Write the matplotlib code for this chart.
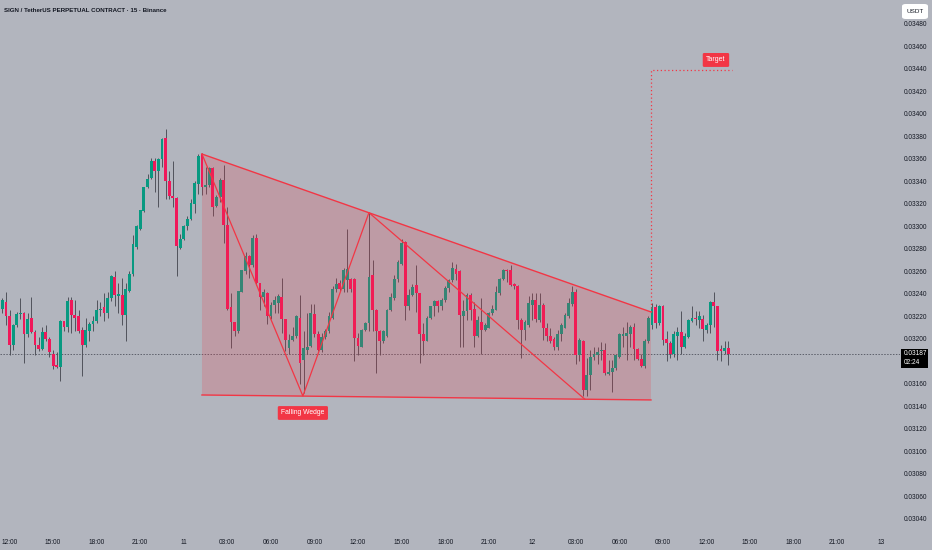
import numpy as np
import matplotlib.pyplot as plt
from matplotlib.patches import Rectangle, FancyBboxPatch, Polygon

# 15m candles, prices in units of 1e-5 USDT
opens = [3227, 3233, 3220, 3195, 3212, 3222, 3223, 3204, 3219, 3206,
         3195, 3191, 3206, 3200, 3187, 3177, 3175, 3216, 3211, 3235,
         3221, 3220, 3208, 3195, 3207, 3213, 3216, 3226, 3228, 3223,
         3236, 3255, 3238, 3239, 3221, 3243, 3258, 3282, 3298, 3314,
         3335, 3343, 3358, 3349, 3360, 3379, 3340, 3327, 3325, 3281,
         3289, 3300, 3307, 3320, 3338, 3364, 3335, 3337, 3352, 3318,
         3326, 3341, 3301, 3228, 3215, 3207, 3242, 3260, 3274, 3266,
         3290, 3250, 3237, 3241, 3220, 3230, 3232, 3237, 3218, 3192,
         3199, 3203, 3219, 3181, 3190, 3194, 3222, 3204, 3190, 3202,
         3207, 3219, 3244, 3250, 3244, 3252, 3253, 3253, 3201, 3193,
         3208, 3214, 3257, 3226, 3207, 3198, 3203, 3226, 3236, 3253,
         3267, 3286, 3229, 3239, 3248, 3241, 3204, 3198, 3219, 3229,
         3234, 3229, 3235, 3245, 3252, 3262, 3260, 3220, 3225, 3239,
         3227, 3203, 3215, 3208, 3210, 3223, 3226, 3241, 3253, 3261,
         3261, 3249, 3247, 3217, 3208, 3212, 3230, 3235, 3217, 3230,
         3210, 3203, 3200, 3193, 3204, 3210, 3220, 3231, 3242, 3186,
         3198, 3155, 3168, 3184, 3186, 3189, 3190, 3169, 3171, 3174,
         3184, 3203, 3203, 3204, 3211, 3191, 3182, 3176, 3198, 3212,
         3228, 3214, 3229, 3200, 3196, 3187, 3203, 3206, 3193, 3202,
         3216, 3219, 3217, 3218, 3208, 3212, 3233, 3229, 3191, 3189,
         3192]
highs = [3236, 3242, 3226, 3213, 3224, 3236, 3224, 3223, 3237, 3208,
         3202, 3211, 3212, 3202, 3190, 3188, 3217, 3216, 3237, 3237,
         3235, 3226, 3211, 3219, 3215, 3220, 3235, 3233, 3241, 3242,
         3257, 3260, 3250, 3254, 3250, 3260, 3292, 3301, 3315, 3335,
         3347, 3361, 3361, 3361, 3379, 3387, 3349, 3358, 3326, 3293,
         3301, 3309, 3324, 3340, 3364, 3365, 3353, 3353, 3353, 3328,
         3343, 3355, 3317, 3241, 3215, 3243, 3261, 3277, 3275, 3292,
         3293, 3250, 3244, 3242, 3233, 3238, 3240, 3254, 3218, 3204,
         3211, 3221, 3239, 3207, 3223, 3231, 3231, 3207, 3205, 3209,
         3224, 3247, 3254, 3252, 3263, 3298, 3254, 3254, 3205, 3209,
         3215, 3312, 3270, 3227, 3208, 3208, 3227, 3241, 3257, 3270,
         3289, 3287, 3244, 3249, 3266, 3241, 3214, 3220, 3229, 3235,
         3235, 3236, 3247, 3253, 3268, 3267, 3261, 3235, 3241, 3241,
         3233, 3220, 3236, 3214, 3224, 3230, 3247, 3254, 3262, 3262,
         3266, 3250, 3248, 3219, 3217, 3238, 3241, 3241, 3241, 3232,
         3214, 3210, 3202, 3208, 3214, 3223, 3236, 3247, 3244, 3201,
         3199, 3183, 3190, 3193, 3193, 3197, 3196, 3181, 3181, 3186,
         3205, 3211, 3215, 3212, 3214, 3192, 3187, 3200, 3220, 3232,
         3231, 3230, 3230, 3207, 3198, 3207, 3211, 3225, 3205, 3218,
         3229, 3225, 3225, 3221, 3214, 3234, 3242, 3229, 3195, 3198,
         3198]
lows = [3223, 3212, 3186, 3190, 3211, 3218, 3179, 3202, 3205, 3186,
        3189, 3190, 3198, 3184, 3173, 3174, 3163, 3207, 3206, 3205,
        3207, 3205, 3167, 3193, 3198, 3207, 3214, 3220, 3216, 3219,
        3234, 3229, 3223, 3212, 3198, 3242, 3256, 3280, 3297, 3313,
        3334, 3342, 3331, 3317, 3353, 3324, 3324, 3317, 3256, 3280,
        3288, 3297, 3306, 3312, 3329, 3328, 3329, 3335, 3309, 3317,
        3322, 3285, 3226, 3192, 3203, 3205, 3242, 3258, 3254, 3264,
        3248, 3226, 3229, 3213, 3218, 3223, 3223, 3205, 3189, 3187,
        3198, 3201, 3160, 3152, 3187, 3193, 3202, 3189, 3188, 3200,
        3205, 3218, 3242, 3243, 3242, 3242, 3242, 3180, 3186, 3193,
        3207, 3207, 3207, 3170, 3186, 3196, 3202, 3225, 3235, 3251,
        3266, 3217, 3226, 3238, 3224, 3179, 3186, 3198, 3218, 3220,
        3224, 3226, 3233, 3242, 3251, 3252, 3193, 3193, 3217, 3217,
        3193, 3202, 3187, 3207, 3210, 3221, 3226, 3239, 3252, 3251,
        3247, 3244, 3209, 3183, 3199, 3211, 3217, 3215, 3215, 3199,
        3198, 3196, 3190, 3190, 3198, 3210, 3219, 3229, 3178, 3180,
        3149, 3149, 3155, 3181, 3178, 3181, 3168, 3168, 3153, 3172,
        3183, 3193, 3181, 3193, 3181, 3181, 3175, 3174, 3196, 3209,
        3210, 3212, 3195, 3180, 3183, 3184, 3181, 3187, 3192, 3201,
        3215, 3212, 3210, 3198, 3205, 3205, 3211, 3181, 3180, 3187,
        3177]
closes = [3235, 3220, 3195, 3212, 3222, 3223, 3204, 3218, 3206, 3195,
          3191, 3206, 3200, 3188, 3176, 3175, 3216, 3211, 3234, 3221,
          3219, 3207, 3195, 3208, 3213, 3216, 3226, 3227, 3223, 3236,
          3256, 3239, 3240, 3221, 3244, 3258, 3284, 3300, 3315, 3335,
          3342, 3358, 3349, 3360, 3378, 3340, 3327, 3325, 3283, 3289,
          3300, 3307, 3321, 3339, 3363, 3335, 3337, 3352, 3317, 3326,
          3341, 3301, 3227, 3215, 3207, 3243, 3261, 3274, 3266, 3290,
          3250, 3237, 3242, 3220, 3230, 3235, 3238, 3218, 3199, 3199,
          3203, 3220, 3179, 3192, 3193, 3223, 3204, 3190, 3202, 3207,
          3220, 3244, 3249, 3244, 3261, 3262, 3244, 3201, 3194, 3208,
          3214, 3255, 3226, 3207, 3198, 3207, 3226, 3237, 3253, 3268,
          3285, 3229, 3239, 3246, 3241, 3204, 3198, 3219, 3229, 3234,
          3229, 3235, 3245, 3252, 3263, 3258, 3221, 3225, 3239, 3226,
          3203, 3217, 3208, 3212, 3223, 3227, 3242, 3253, 3261, 3260,
          3248, 3247, 3217, 3208, 3215, 3232, 3235, 3218, 3230, 3210,
          3203, 3198, 3193, 3204, 3212, 3221, 3232, 3242, 3186, 3199,
          3155, 3168, 3184, 3187, 3188, 3190, 3170, 3171, 3174, 3186,
          3204, 3204, 3205, 3211, 3191, 3182, 3176, 3198, 3219, 3228,
          3214, 3229, 3199, 3196, 3187, 3204, 3206, 3193, 3203, 3217,
          3219, 3218, 3220, 3209, 3212, 3233, 3229, 3189, 3189, 3192,
          3187]

time_ticks = ['12:00', '15:00', '18:00', '21:00', '11', '03:00', '06:00', '09:00',
              '12:00', '15:00', '18:00', '21:00', '12', '03:00', '06:00', '09:00',
              '12:00', '15:00', '18:00', '21:00', '13']
price_ticks = [0.0304 + 0.0002 * i for i in range(23)]
last_price = 0.03187

# drawings: (candle index, price)
wedge_upper = [(55.0, 0.033644), (178.7, 0.03224)]
wedge_lower = [(55.0, 0.031502), (178.7, 0.031458)]
zigzag = [(55.0, 0.033644), (82.8, 0.031493), (101.0, 0.033123), (160.5, 0.031464)]
target_path = [(178.7, 0.03224), (178.7, 0.03439), (201.0, 0.03439)]

o = np.array(opens) / 1e5
h = np.array(highs) / 1e5
l = np.array(lows) / 1e5
c = np.array(closes) / 1e5
x = np.arange(len(o))

BG = '#b2b5be'
GREEN = '#089981'
RED = '#f0185a'
LINE_RED = '#f23645'
TXT = '#131722'

plt.rcParams['font.family'] = ['Liberation Sans', 'DejaVu Sans']

fig = plt.figure(figsize=(9.32, 5.5), dpi=100, facecolor=BG)
ax = fig.add_axes([0, 19 / 550, 900 / 932, 531 / 550])
ax.set_facecolor(BG)

up = c >= o
colors = np.where(up, GREEN, RED)
ax.vlines(x, l, h, color='#4a4c55', linewidth=0.65, zorder=2)
body_bottom = np.minimum(o, c)
body_h = np.maximum(np.abs(c - o), 0.000008)
ax.bar(x, body_h, bottom=body_bottom, width=0.78, color=colors, linewidth=0, zorder=3)

# last price line
ax.axhline(last_price, color='#5d606b', linewidth=0.7, linestyle=(0, (1.5, 1.5)), zorder=1)

# falling wedge
poly = Polygon([wedge_upper[0], wedge_upper[1], wedge_lower[1], wedge_lower[0]],
               closed=True, facecolor=LINE_RED, alpha=0.2, edgecolor='none', zorder=4)
ax.add_patch(poly)
ax.plot([p[0] for p in wedge_upper], [p[1] for p in wedge_upper], color=LINE_RED, lw=1.0, zorder=5)
ax.plot([p[0] for p in wedge_lower], [p[1] for p in wedge_lower], color=LINE_RED, lw=1.0, zorder=5)
ax.plot([p[0] for p in zigzag], [p[1] for p in zigzag], color=LINE_RED, lw=0.9, zorder=5)

# target projection
ax.plot([p[0] for p in target_path], [p[1] for p in target_path], color=LINE_RED,
        lw=0.9, linestyle=(0, (1, 2)), zorder=5)

label_box = dict(boxstyle='round,pad=0.5,rounding_size=0.2', fc=LINE_RED, ec='none')
ax.text(82.8, 0.031342, 'Falling Wedge', color='white', fontsize=4.9,
        ha='center', va='center', bbox=label_box, zorder=6)
ax.text(196.6, 0.03448, 'Target', color='white', fontsize=5.0,
        ha='center', va='center', bbox=label_box, zorder=6)

# axes
ax.set_xlim(-0.634, 247.3)
ax.set_ylim(0.030293, 0.035013)
for s in ax.spines.values():
    s.set_visible(False)
ax.set_xticks(2 + 12 * np.arange(len(time_ticks)))
ax.set_xticklabels(time_ticks)
ax.set_yticks(price_ticks)
# the 0.03180 label sits under the last-price badge
ax.set_yticklabels(['' if abs(p - 0.0318) < 1e-7 else f'{p:.5f}' for p in price_ticks])
ax.yaxis.tick_right()
ax.tick_params(axis='both', length=0, labelsize=4.7, colors=TXT)
ax.tick_params(axis='y', pad=3)
ax.tick_params(axis='x', pad=6)

# header
fig.text(4 / 932, 1 - 10 / 550, 'SIGN / TetherUS PERPETUAL CONTRACT \u00b7 15 \u00b7 Binance',
         fontsize=4.4, fontweight='bold', color=TXT, va='center', ha='left')

# USDT badge
fig.add_artist(FancyBboxPatch((902 / 932, 1 - 19 / 550), 26 / 932, 15 / 550,
                              boxstyle='round,pad=0,rounding_size=0.004',
                              transform=fig.transFigure, fc='white', ec='none', zorder=5))
fig.text(915 / 932, 1 - 11.5 / 550, 'USDT', fontsize=4.6, color=TXT,
         ha='center', va='center', zorder=6)

# last price badge
fig.add_artist(Rectangle((901 / 932, 1 - 368 / 550), 27 / 932, 19 / 550,
                         transform=fig.transFigure, fc='black', ec='none', zorder=5))
fig.text(904 / 932, 1 - 353.5 / 550, f'{last_price:.5f}', fontsize=4.7, color='white',
         ha='left', va='center', zorder=6)
fig.text(904 / 932, 1 - 362.5 / 550, '02:24', fontsize=4.7, color='white',
         ha='left', va='center', zorder=6)

fig.savefig('out.png', dpi=100, facecolor=BG)
